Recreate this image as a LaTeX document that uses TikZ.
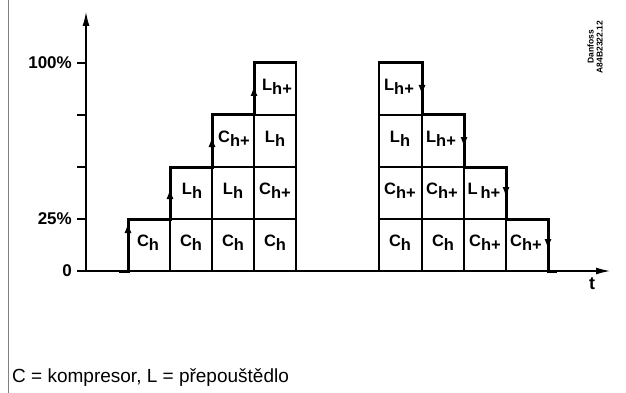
\documentclass[tikz,border=0pt]{standalone}
\usepackage{fontspec}
\setmainfont{Liberation Sans}
\usetikzlibrary{arrows.meta}
\newcommand{\cl}[2]{#1\raisebox{-4pt}{#2}}
\begin{document}
\begin{tikzpicture}[x=1pt,y=-1pt,
  grid/.style={line width=1.1pt},
  stair/.style={line width=3pt},
  axis/.style={line width=1.2pt},
  tick/.style={line width=1.1pt},
  tip/.style={line width=3pt,-{Latex[length=11pt,width=7pt]}},
  cell/.style={font=\fontsize{16.5}{16}\bfseries\selectfont,inner sep=0pt,anchor=center},
  ylab/.style={font=\fontsize{17}{17}\bfseries\selectfont,anchor=east,inner sep=0pt}]
\useasboundingbox (0,0) rectangle (626,393);
\fill[white] (0,0) rectangle (626,393);
% left border
\draw[gray,line width=1.6pt] (8.5,0) -- (8.5,393);
% axes
\coordinate (o) at (86,271);
\coordinate (ytop) at (86,12);
\coordinate (xend) at (610,271);
\draw[axis,-{Latex[length=14pt,width=7pt]}] (o) -- (ytop);
\draw[axis,-{Latex[length=14pt,width=7pt]}] (o) -- (xend);
\foreach \y in {63,115,167,219,271} \draw[tick] (77,\y) -- (86,\y);
\node[ylab] (l100) at (72,63) {100\%};
\node[ylab] (l25) at (72,219) {25\%};
\node[ylab] (l0) at (72,271) {0};
\node[font=\fontsize{18}{18}\bfseries\selectfont,inner sep=0pt] (tl) at (592,284) {t};
% left grid
\draw[grid] (170,271) -- (170,219) (212,271) -- (212,167) (254,271) -- (254,115) (296,271) -- (296,63);
\draw[grid] (128,219) -- (296,219) (170,167) -- (296,167) (212,115) -- (296,115);
\draw[stair] (119,271) -- (128,271) -- (128,219) -- (170,219) -- (170,167) -- (212,167) -- (212,115) -- (254,115) -- (254,63) -- (297,63);
\draw[tip] (128,245) -- (128,222);
\draw[tip] (170,206) -- (170,188);
\draw[tip] (212,154) -- (212,136);
\draw[tip] (254,102) -- (254,85);
% left labels
\node[cell] (a11) at (148,243) {\cl{C}{h}};
\node[cell] (a12) at (191,243) {\cl{C}{h}};
\node[cell] (a13) at (233,243) {\cl{C}{h}};
\node[cell] (a14) at (275,243) {\cl{C}{h}};
\node[cell] (a22) at (192,191) {\cl{L}{h}};
\node[cell] (a23) at (233,191) {\cl{L}{h}};
\node[cell] (a24) at (275,191) {\cl{C}{h+}};
\node[cell] (a33) at (234,139) {\cl{C}{h+}};
\node[cell] (a34) at (275,139) {\cl{L}{h}};
\node[cell] (a44) at (277,87) {\cl{L}{h+}};
% right grid
\draw[grid] (379,271) -- (379,63) (422,271) -- (422,115) (464,271) -- (464,167) (506,271) -- (506,219);
\draw[grid] (379,219) -- (506,219) (379,167) -- (464,167) (379,115) -- (422,115);
\draw[stair] (378,63) -- (422,63) -- (422,115) -- (464,115) -- (464,167) -- (506,167) -- (506,219) -- (548,219) -- (548,271) -- (557,271);
\draw[tip] (422,75) -- (422,96);
\draw[tip] (464,127) -- (464,148);
\draw[tip] (506,179) -- (506,198);
\draw[tip] (548,231) -- (548,250);
% right labels
\node[cell] (b11) at (400,243) {\cl{C}{h}};
\node[cell] (b12) at (443,243) {\cl{C}{h}};
\node[cell] (b13) at (485,243) {\cl{C}{h+}};
\node[cell] (b14) at (526,243) {\cl{C}{h+}};
\node[cell] (b21) at (400,191) {\cl{C}{h+}};
\node[cell] (b22) at (442,191) {\cl{C}{h+}};
\node[cell] (b23) at (484,191) {\cl{L}{\,h+}};
\node[cell] (b31) at (400,139) {\cl{L}{h}};
\node[cell] (b32) at (441,139) {\cl{L}{h+}};
\node[cell] (b41) at (399,87) {\cl{L}{h+}};
% Danfoss mark
\node[rotate=90,font=\fontsize{8.5}{9}\bfseries\selectfont,align=center,inner sep=0pt] (dan) at (595,47) {Danfoss\\A84B2322.12};
% caption
\node[anchor=west,font=\fontsize{19}{19}\selectfont,inner sep=0pt] (cap) at (12,378) {C = kompresor, L = přepouštědlo};
\end{tikzpicture}
\end{document}
